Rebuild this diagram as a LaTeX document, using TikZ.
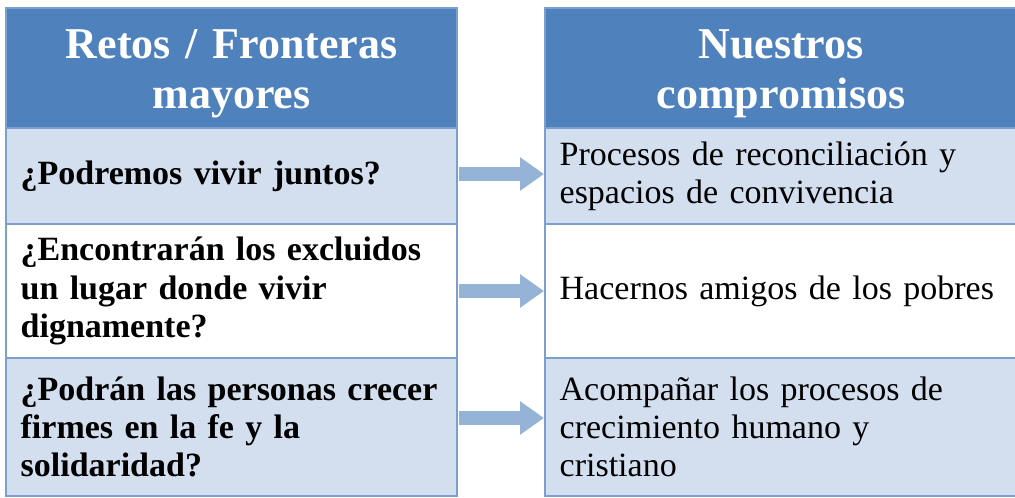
\documentclass[tikz,border=0pt]{standalone}
\usepackage{fontspec}
\setmainfont{Liberation Serif}
\usepackage{tikz}
\usetikzlibrary{arrows.meta}

\definecolor{headblue}{HTML}{4F81BD}
\definecolor{rowblue}{HTML}{D3DFEE}
\definecolor{gridblue}{HTML}{7BA0CD}
\definecolor{arrowblue}{HTML}{95B3D7}

\begin{document}
\begin{tikzpicture}[x=1pt,y=-1pt,
	cell/.style={draw=gridblue,line width=1.5pt,rectangle,anchor=north west,inner xsep=11pt,inner ysep=0pt,align=left,font=\fontsize{25.5}{28.7}\selectfont},
	head/.style={cell,fill=headblue,text=white,align=center,font=\fontsize{33}{37.5}\selectfont\bfseries},
	leftcol/.style={text width=316.25pt},
	rightcol/.style={text width=332pt},
	bigarrow/.style={draw=arrowblue,line width=10.5pt,shorten <=1pt,-{Triangle[length=18pt,width=24pt]}}]
	\useasboundingbox (0,0) rectangle (761.25,372.75);
	\draw (3.75,5.25) node(h1) [head,leftcol,minimum height=90pt] {\rule{0pt}{30pt}Retos / Fronteras\\mayores};
	\draw (408,5.25) node(h2) [head,rightcol,minimum height=90pt] {\rule{0pt}{30pt}Nuestros\\compromisos};
	\draw (3.75,95.25) node(l1) [cell,leftcol,fill=rowblue,minimum height=72pt] {\bfseries ¿Podremos vivir juntos?};
	\draw (3.75,167.25) node(l2) [cell,leftcol,fill=white,minimum height=100.5pt] {\bfseries ¿Encontrarán los excluidos\\un lugar donde vivir\\dignamente?};
	\draw (3.75,267.75) node(l3) [cell,leftcol,fill=rowblue,minimum height=103.5pt] {\bfseries ¿Podrán las personas crecer\\firmes en la fe y la\\solidaridad?};
	\draw (408,95.25) node(r1) [cell,rightcol,fill=rowblue,minimum height=72pt] {Procesos de reconciliación y\\espacios de convivencia};
	\draw (408,167.25) node(r2) [cell,rightcol,fill=white,minimum height=100.5pt] {Hacernos amigos de los pobres};
	\draw (408,267.75) node(r3) [cell,rightcol,fill=rowblue,minimum height=103.5pt] {Acompañar los procesos de\\crecimiento humano y\\cristiano};
	\path[bigarrow] ([yshift=1.5pt]l1.east) -- ([yshift=1.5pt]r1.west);
	\path[bigarrow] (l2.east) -- (r2.west);
	\path[bigarrow] ([yshift=6.75pt]l3.east) -- ([yshift=6.75pt]r3.west);
\end{tikzpicture}
\end{document}
